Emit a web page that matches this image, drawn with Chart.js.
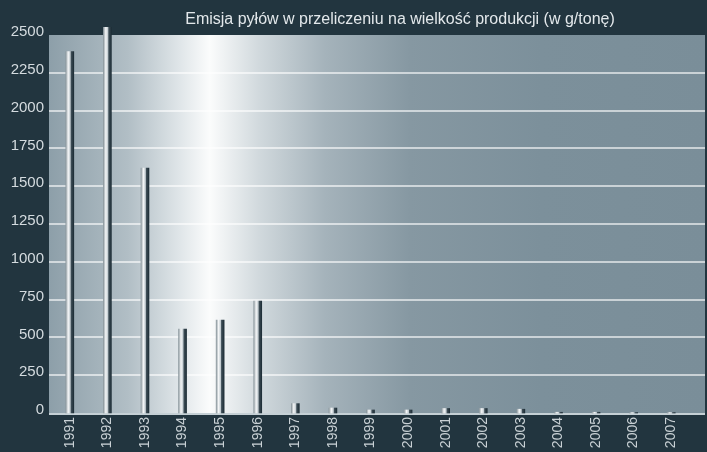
<!DOCTYPE html>
<html>
<head>
<meta charset="utf-8">
<script src="https://cdn.jsdelivr.net/npm/chart.js@4.4.0/dist/chart.umd.min.js"></script>
<style>
  html, body { margin: 0; padding: 0; background: #22353f; }
  #wrap { width: 707px; height: 452px; }
</style>
</head>
<body>
<div id="wrap"><canvas id="chart" width="707" height="452"></canvas></div>
<script>
const title = 'Emisja pyłów w przeliczeniu na wielkość produkcji (w g/tonę)';
const years = ['1991', '1992', '1993', '1994', '1995', '1996', '1997', '1998', '1999',
  '2000', '2001', '2002', '2003', '2004', '2005', '2006', '2007'];
const emission = [2390, 2550, 1620, 555, 615, 740, 62, 33, 20, 20, 30, 30, 25, 5, 5, 3, 3];
const yTicks = [0, 250, 500, 750, 1000, 1250, 1500, 1750, 2000, 2250, 2500];

// backdrop + grid drawn behind the bars, reaching the right edge like the original
const backdrop = {
  id: 'backdrop',
  beforeDatasetsDraw(chart) {
    const { ctx, chartArea: a, scales: { y } } = chart;
    const left = a.left - 2, right = chart.width - 2;
    ctx.save();
    const g = ctx.createLinearGradient(left, 0, right, 0);
    g.addColorStop(0, '#8d9fa9');
    g.addColorStop(0.12, '#b1bec5');
    g.addColorStop(0.2, '#e0e6e9');
    g.addColorStop(0.245, '#fbfcfc');
    g.addColorStop(0.32, '#d1d9dd');
    g.addColorStop(0.42, '#a5b3bb');
    g.addColorStop(0.55, '#8698a2');
    g.addColorStop(0.75, '#7c909b');
    g.addColorStop(1, '#7a8e99');
    ctx.fillStyle = g;
    ctx.fillRect(left, a.top, right - left, a.bottom - a.top);
    ctx.strokeStyle = 'rgba(255,255,255,0.6)';
    ctx.lineWidth = 2;
    yTicks.forEach(v => {
      if (v === 0 || v === 2500) return;
      const py = Math.round(y.getPixelForValue(v));
      ctx.beginPath();
      ctx.moveTo(left, py);
      ctx.lineTo(right, py);
      ctx.stroke();
    });
    ctx.strokeStyle = 'rgba(215,225,230,0.9)';
    ctx.beginPath();
    ctx.moveTo(left, a.bottom + 1);
    ctx.lineTo(right, a.bottom + 1);
    ctx.stroke();
    ctx.restore();
  },
  afterDraw(chart) {
    const { ctx } = chart;
    ctx.save();
    ctx.fillStyle = '#e3e8eb';
    ctx.font = '16px "Liberation Sans", Arial, sans-serif';
    ctx.textAlign = 'center';
    ctx.textBaseline = 'middle';
    ctx.fillText(title, 400, 20);
    ctx.restore();
  }
};

function barFill(context) {
  const chart = context.chart;
  const x = chart.scales.x;
  if (!x || !chart.chartArea) return '#ffffff';
  const cx = x.getPixelForValue(context.dataIndex);
  const g = chart.ctx.createLinearGradient(cx - 4, 0, cx + 4, 0);
  g.addColorStop(0, '#8c989e');
  g.addColorStop(0.3, '#f5f7f8');
  g.addColorStop(0.55, '#c3ccd1');
  g.addColorStop(0.68, '#3d4d56');
  g.addColorStop(1, '#1e2e37');
  return g;
}

new Chart(document.getElementById('chart'), {
  type: 'bar',
  data: {
    labels: years,
    datasets: [{
      data: emission,
      backgroundColor: barFill,
      borderWidth: 0,
      barThickness: 8,
      clip: false
    }]
  },
  options: {
    responsive: false,
    animation: false,
    layout: { padding: { top: 35, right: 17, left: 0, bottom: 0 } },
    plugins: { legend: { display: false }, tooltip: { enabled: false }, title: { display: false } },
    scales: {
      x: {
        grid: { display: false, drawTicks: false },
        border: { display: false },
        ticks: {
          color: '#c9d1d5',
          font: { family: '"Liberation Sans", Arial, sans-serif', size: 14 },
          minRotation: 90, maxRotation: 90, padding: 4, autoSkip: false
        },
        afterFit(scale) { scale.height = 39; }
      },
      y: {
        min: 0, max: 2500,
        grid: { display: false, drawTicks: false },
        border: { display: false },
        ticks: {
          stepSize: 250,
          padding: 7,
          labelOffset: -3,
          color: '#d4dbdf',
          font: { family: '"Liberation Sans", Arial, sans-serif', size: 15 },
          callback: v => String(v)
        },
        afterFit(scale) { scale.width = 51; }
      }
    }
  },
  plugins: [backdrop]
});
</script>
</body>
</html>
